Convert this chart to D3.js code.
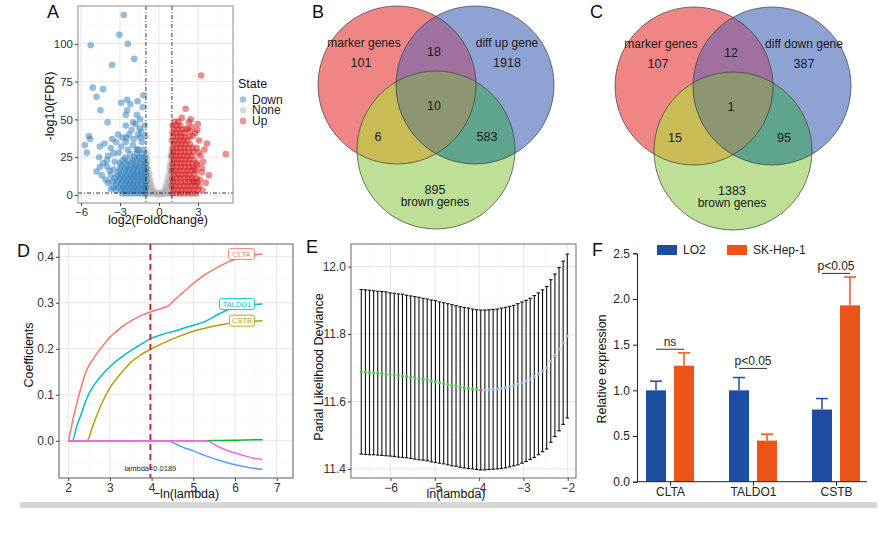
<!DOCTYPE html>
<html><head><meta charset="utf-8">
<script src="https://cdn.jsdelivr.net/npm/d3@7"></script>
<style>
body{margin:0;background:#fff;}
svg{display:block;font-family:"Liberation Sans",Arial,Helvetica,sans-serif;}
</style></head><body>
<svg id="fig" width="888" height="542"></svg>
<script>
// ================= DATA =================
// Panel A: volcano plot  [log2FC, -log10 FDR]
const volcanoStates = ["Down","None","Up"];
const volcanoXTicks = [-6,-3,0,3];
const volcanoYTicks = [0,25,50,75,100];
const volcanoDown = [
 [-2.7,119],[-3.05,106],[-5.25,99],[-2.4,100],[-1.9,90],[-3.6,86],[-5.1,71],[-4.3,70],[-4.8,65],[-1.2,66],
 [-2.45,63],[-2.2,60],[-1.65,62],[-2.9,61],[-4.5,56],[-2.45,56],[-2.55,53],[-1.7,53],[-3.95,48],[-1.45,50],
 [-2.0,48],[-1.8,47],[-2.55,46],[-1.5,44],[-1.35,42],[-3.15,40],[-2.8,38],[-2.5,38],[-2.3,40],[-1.45,38],
 [-5.4,39],[-5.3,37],[-5.7,33],[-5.55,28],[-4.55,32],[-4.2,34],[-3.6,37],[-3.7,31],[-3.3,35],[-2.55,35],
 [-3.9,26],[-3.5,27.5],[-4.8,15.5],[-4.55,18.5],[-4.3,21],[-4.0,19],[-3.8,16],[-4.0,23],[-1.1,46],[-1.3,35],
 [-2.0,33],[-1.7,30],[-2.9,32],[-3.1,28],[-4.4,13],[-4.1,10],[-3.9,8],[-3.7,4],[-4.6,25],[-3.4,22],
 [-1.6,40],[-2.1,43],[-1.25,58],[-1.05,39],[-1.95,37],
 [-1.05,1],[-1.3,1],[-1.6,1],[-1.9,1],[-2.2,1],[-2.5,1],[-2.8,1],
 [-1.1,3],[-1.4,3],[-1.7,3],[-2.0,3],[-2.3,3],[-2.6,3],[-2.9,3],[-3.3,3],
 [-1.0,5],[-1.25,5],[-1.55,5],[-1.85,5],[-2.15,5],[-2.45,5],[-2.75,5],[-3.1,5],[-3.5,5],
 [-1.1,7],[-1.4,7],[-1.7,7],[-2.0,7],[-2.3,7],[-2.6,7],[-2.9,7],[-3.3,7],
 [-1.0,9],[-1.3,9],[-1.6,9],[-1.9,9],[-2.2,9],[-2.5,9],[-2.8,9],[-3.2,9],[-3.6,9],
 [-1.15,11],[-1.45,11],[-1.75,11],[-2.05,11],[-2.35,11],[-2.7,11],[-3.0,11],[-3.4,11],
 [-1.0,13],[-1.3,13],[-1.6,13],[-1.9,13],[-2.2,13],[-2.5,13],[-2.85,13],[-3.2,13],[-3.7,13],
 [-1.1,15],[-1.4,15],[-1.7,15],[-2.0,15],[-2.35,15],[-2.7,15],[-3.1,15],
 [-1.0,17],[-1.3,17],[-1.65,17],[-1.95,17],[-2.3,17],[-2.6,17],[-3.0,17],[-3.5,17],
 [-1.15,19],[-1.5,19],[-1.8,19],[-2.15,19],[-2.5,19],[-2.9,19],
 [-1.05,21],[-1.4,21],[-1.75,21],[-2.1,21],[-2.55,21],[-3.0,21],
 [-1.2,23],[-1.6,23],[-2.0,23],[-2.4,23],[-2.8,23],
 [-1.1,25],[-1.5,25],[-1.9,25],[-2.6,25],[-1.3,27],[-1.7,27],[-2.2,27],[-1.2,30],[-1.6,30],[-2.4,30]
];
const volcanoNone = [
 [-0.98,1],[-0.98,5],[-0.98,9],[-0.98,13],[-0.98,17],[-0.98,21],[-0.98,25],[-0.97,28],
 [-0.9,3],[-0.9,7],[-0.9,11],[-0.9,15],[-0.9,19],[-0.9,23],[-0.82,1],[-0.82,5],[-0.82,9],[-0.82,13],[-0.82,17],
 [-0.74,3],[-0.74,7],[-0.74,11],[-0.74,14],[-0.66,1],[-0.66,5],[-0.66,9],[-0.58,3],[-0.58,6.5],[-0.5,1],[-0.5,4.5],
 [-0.42,2.5],[-0.34,1],[-0.26,2],[-0.18,0.5],[-0.1,1.2],[0,0.5],
 [0.1,1],[0.18,0.5],[0.26,2],[0.34,1],[0.42,3],[0.5,1],[0.5,5],[0.58,3],[0.58,7.5],[0.66,1],[0.66,5.5],[0.66,10],
 [0.74,3],[0.74,8],[0.74,13],[0.82,1],[0.82,6],[0.82,11],[0.82,16],[0.82,19],[0.9,3],[0.9,8],[0.9,13],[0.9,18],
 [0.9,22],[0.9,26],[0.98,1],[0.98,5],[0.98,10],[0.98,15],[0.98,20],[0.98,25],[0.97,29]
];
const volcanoUp = [
 [3.25,79],[2.05,57],[3.0,47],[2.55,45],[2.8,41],[3.1,36],[3.7,34],[5.15,27],[2.9,31],[3.2,26],
 [2.95,20],[3.3,15],[3.85,13],[2.6,39],[3.05,28],[3.4,22],[2.75,17],[3.15,10],[3.5,30],[2.95,43],
 [3.1,6],[3.35,3],[2.45,50],[1.75,51],[2.3,48],[3.3,18],[2.7,9],[3.6,8],[2.4,42],[2.2,44],
 [1.05,1],[1.35,1],[1.65,1],[1.95,1],[2.25,1],[2.55,1],[2.85,1],
 [1.15,3.5],[1.45,3.5],[1.75,3.5],[2.05,3.5],[2.35,3.5],[2.65,3.5],[3.0,3.5],
 [1.0,6],[1.3,6],[1.6,6],[1.9,6],[2.2,6],[2.5,6],[2.8,6],
 [1.1,8.5],[1.4,8.5],[1.7,8.5],[2.0,8.5],[2.3,8.5],[2.6,8.5],[2.95,8.5],
 [1.05,11],[1.35,11],[1.65,11],[1.95,11],[2.25,11],[2.55,11],[2.9,11],
 [1.15,13.5],[1.45,13.5],[1.75,13.5],[2.05,13.5],[2.35,13.5],[2.7,13.5],
 [1.0,16],[1.3,16],[1.6,16],[1.9,16],[2.2,16],[2.5,16],[2.85,16],
 [1.1,18.5],[1.4,18.5],[1.7,18.5],[2.0,18.5],[2.3,18.5],[2.6,18.5],
 [1.05,21],[1.35,21],[1.65,21],[1.95,21],[2.25,21],[2.55,21],[2.9,21],
 [1.15,23.5],[1.45,23.5],[1.75,23.5],[2.05,23.5],[2.35,23.5],[2.7,23.5],
 [1.0,26],[1.3,26],[1.6,26],[1.9,26],[2.2,26],[2.5,26],
 [1.1,28.5],[1.4,28.5],[1.7,28.5],[2.0,28.5],[2.3,28.5],[2.65,28.5],
 [1.05,31],[1.35,31],[1.65,31],[1.95,31],[2.25,31],[2.6,31],
 [1.15,33.5],[1.45,33.5],[1.75,33.5],[2.05,33.5],[2.4,33.5],
 [1.0,36],[1.3,36],[1.6,36],[1.9,36],[2.2,36],
 [1.1,38.5],[1.4,38.5],[1.7,38.5],[2.0,38.5],[2.35,38.5],
 [1.05,41],[1.35,41],[1.65,41],[1.95,41],[1.15,43.5],[1.45,43.5],[1.75,43.5],[2.1,43.5],
 [1.05,46],[1.35,46],[1.65,46],[1.2,48.5],[1.5,48.5]
];

// Panels B, C: Venn counts  [A only, B only, C only, AB, AC, BC, ABC]
const vennBSets = ["marker genes","diff up gene","brown genes"];
const vennBCounts = [101,1918,895,18,6,583,10];
const vennCSets = ["marker genes","diff down gene","brown genes"];
const vennCCounts = [107,387,1383,12,15,95,1];

// Panel D: LASSO coefficient paths
const lassoX = [2.01,2.1,2.2,2.3,2.45,2.6,2.8,3.0,3.25,3.5,3.75,4.0,4.25,4.4,4.55,4.75,5.0,5.3,5.6,5.9,6.2,6.45,6.66];
const lassoGenes = ["CLTA","CSTB","gene3","TALDO1","gene5","gene6"];
const coefCLTA   = [0,0.04,0.078,0.113,0.155,0.178,0.203,0.225,0.245,0.26,0.272,0.281,0.288,0.293,0.306,0.322,0.342,0.362,0.378,0.391,0.399,0.404,0.406];
const coefCSTB   = [0,0,0,0,0,0.035,0.08,0.115,0.145,0.17,0.187,0.2,0.211,0.217,0.223,0.23,0.238,0.245,0.251,0.256,0.259,0.26,0.261];
const coefGene3  = [0,0,0,0,0,0,0,0,0,0,0,0,0,0,0,0,0,0,0.0005,0.001,0.0015,0.002,0.0022];
const coefTALDO1 = [0,0,0.03,0.055,0.093,0.118,0.142,0.161,0.18,0.196,0.21,0.223,0.231,0.235,0.238,0.244,0.251,0.26,0.275,0.287,0.293,0.296,0.297];
const coefGene5  = [0,0,0,0,0,0,0,0,0,0,0,0,0,0,-0.006,-0.014,-0.022,-0.033,-0.042,-0.05,-0.056,-0.06,-0.062];
const coefGene6  = [0,0,0,0,0,0,0,0,0,0,0,0,0,0,0,0,0,0,-0.013,-0.024,-0.032,-0.038,-0.041];
const lambdaMinLabel = "lambda=0.0189";
const lambdaMinNegLog = 3.97;

// Panel E: cross-validation
const lnLambda = [-6.66,-6.567,-6.474,-6.381,-6.288,-6.195,-6.102,-6.009,-5.916,-5.823,-5.73,-5.637,-5.544,-5.451,-5.358,-5.265,-5.172,-5.079,-4.986,-4.893,-4.8,-4.707,-4.614,-4.521,-4.428,-4.335,-4.242,-4.149,-4.056,-3.963,-3.87,-3.777,-3.684,-3.591,-3.498,-3.405,-3.312,-3.219,-3.126,-3.033,-2.94,-2.847,-2.754,-2.661,-2.568,-2.475,-2.382,-2.289,-2.196,-2.103,-2.01];
const cvMean = [11.688,11.687,11.686,11.685,11.684,11.683,11.682,11.680,11.679,11.677,11.676,11.674,11.672,11.670,11.668,11.666,11.664,11.661,11.659,11.656,11.654,11.651,11.648,11.646,11.643,11.641,11.639,11.637,11.635,11.634,11.634,11.635,11.636,11.637,11.639,11.641,11.644,11.647,11.651,11.656,11.661,11.667,11.674,11.682,11.691,11.70,11.72,11.737,11.755,11.774,11.794];
const cvSE = [0.244,0.244,0.244,0.243,0.243,0.243,0.243,0.242,0.242,0.242,0.242,0.241,0.241,0.241,0.241,0.240,0.240,0.240,0.240,0.239,0.239,0.239,0.239,0.238,0.238,0.238,0.238,0.237,0.237,0.237,0.237,0.237,0.237,0.237,0.238,0.238,0.238,0.238,0.239,0.239,0.239,0.239,0.240,0.240,0.240,0.241,0.241,0.241,0.242,0.242,0.243];

// Panel F: qPCR
const qpcrGenes = ["CLTA","TALDO1","CSTB"];
const qpcrGroups = ["LO2","SK-Hep-1"];
const lo2Mean = [1.0,1.0,0.79];
const lo2Err  = [0.10,0.14,0.12];
const skMean  = [1.27,0.45,1.93];
const skErr   = [0.14,0.07,0.31];
const sigLabels = ["ns","p<0.05","p<0.05"];
const sigLevels = [1.45,1.24,2.28];

// ================= DRAWING =================
const FONT = '"Liberation Sans", Arial, Helvetica, sans-serif';
const svg = d3.select("#fig");

svg.append("rect").attr("x",20).attr("y",502).attr("width",857).attr("height",6).attr("fill","#d6d6d6");

function panelLetter(t,x,y){
  svg.append("text").attr("x",x).attr("y",y).attr("font-size",18).attr("fill","#111").text(t);
}
function styleAx(sel,size){
  sel.attr("font-size",size).attr("font-family",FONT);
  sel.selectAll("text").attr("fill","#333");
  sel.selectAll("line").attr("stroke","#444");
  sel.select(".domain").remove();
}
function panelBW(c){
  const g = svg.append("g");
  const [x0,y0,x1,y1] = c.box;
  g.append("rect").attr("x",x0).attr("y",y0).attr("width",x1-x0).attr("height",y1-y0).attr("fill","#fff");
  const grid = g.append("g");
  c.xMinor.forEach(v=>grid.append("line").attr("x1",c.x(v)).attr("x2",c.x(v)).attr("y1",y0).attr("y2",y1).attr("stroke","#f2f2f2").attr("stroke-width",0.6));
  c.yMinor.forEach(v=>grid.append("line").attr("y1",c.y(v)).attr("y2",c.y(v)).attr("x1",x0).attr("x2",x1).attr("stroke","#f2f2f2").attr("stroke-width",0.6));
  c.xMajor.forEach(v=>grid.append("line").attr("x1",c.x(v)).attr("x2",c.x(v)).attr("y1",y0).attr("y2",y1).attr("stroke","#e6e6e6").attr("stroke-width",1));
  c.yMajor.forEach(v=>grid.append("line").attr("y1",c.y(v)).attr("y2",c.y(v)).attr("x1",x0).attr("x2",x1).attr("stroke","#e6e6e6").attr("stroke-width",1));
  const data = g.append("g");
  return {g,data,finish(){
    g.append("rect").attr("x",x0).attr("y",y0).attr("width",x1-x0).attr("height",y1-y0).attr("fill","none").attr("stroke",c.border).attr("stroke-width",1);
    g.append("g").attr("transform",`translate(0,${y1})`)
      .call(d3.axisBottom(c.x).tickValues(c.xMajor).tickSize(3).tickPadding(2).tickFormat(c.xFmt))
      .call(s=>styleAx(s,c.fs));
    g.append("g").attr("transform",`translate(${x0},0)`)
      .call(d3.axisLeft(c.y).tickValues(c.yMajor).tickSize(3).tickPadding(2).tickFormat(c.yFmt))
      .call(s=>styleAx(s,c.fs));
  }};
}
function title(t,x,y,rot,size){
  const e = svg.append("text").attr("font-size",size||12.5).attr("fill","#111").attr("text-anchor","middle").attr("dy","0.35em");
  if(rot) e.attr("transform",`translate(${x},${y}) rotate(-90)`); else e.attr("x",x).attr("y",y);
  e.text(t); return e;
}

// ---------- Panel A ----------
{
  const x = d3.scaleLinear().domain([-6.23,5.7]).range([78,233]);
  const y = d3.scaleLinear().domain([-5.3,125]).range([203,6]);
  const P = panelBW({box:[78,6,233,203],x,y,xMajor:volcanoXTicks,xMinor:[-4.5,-1.5,1.5,4.5],
    yMajor:volcanoYTicks,yMinor:[12.5,37.5,62.5,87.5,112.5],border:"#8c8c8c",fs:11.5,xFmt:d3.format("d"),yFmt:d3.format("d")});
  const cols = {Down:"#2b7bba",None:"#b0b0b0",Up:"#d7191c"};
  [["None",volcanoNone],["Down",volcanoDown],["Up",volcanoUp]].forEach(([k,arr])=>{
    P.data.append("g").selectAll("circle").data(arr).join("circle")
      .attr("cx",d=>x(d[0])).attr("cy",d=>y(d[1])).attr("r",3.3)
      .attr("fill",cols[k]).attr("fill-opacity",0.5);
  });
  const dash = "4,2,1,2";
  [-1,1].forEach(v=>P.data.append("line").attr("x1",x(v)).attr("x2",x(v)).attr("y1",6).attr("y2",203)
     .attr("stroke","#222").attr("stroke-width",0.9).attr("stroke-dasharray",dash));
  P.data.append("line").attr("x1",78).attr("x2",233).attr("y1",y(-Math.log10(0.05))).attr("y2",y(-Math.log10(0.05)))
     .attr("stroke","#222").attr("stroke-width",0.9).attr("stroke-dasharray",dash);
  P.finish();
  title("log2(FoldChange)",158,220);
  title("-log10(FDR)",50,106,true);
  // legend
  svg.append("text").attr("x",238).attr("y",88).attr("font-size",12.5).attr("fill","#111").text("State");
  volcanoStates.forEach((s,i)=>{
    svg.append("circle").attr("cx",243).attr("cy",99.5+i*10.7).attr("r",3.3).attr("fill",cols[s]).attr("fill-opacity",0.45);
    svg.append("text").attr("x",252).attr("y",99.5+i*10.7).attr("dy","0.35em").attr("font-size",12).attr("fill","#222").text(s);
  });
  panelLetter("A",47,18);
}

// ---------- Venn B & C ----------
function venn(id,ox,oy,sets,counts){
  const r = 79;
  const cs = [[ox,oy],[ox+78,oy],[ox+39,oy+65]];
  const defs = svg.append("defs");
  cs.forEach((c,i)=>defs.append("clipPath").attr("id",id+i).append("circle").attr("cx",c[0]).attr("cy",c[1]).attr("r",r));
  const g = svg.append("g");
  const base = ["#f08585","#8ea2d3","#bde096"];
  cs.forEach((c,i)=>g.append("circle").attr("cx",c[0]).attr("cy",c[1]).attr("r",r).attr("fill",base[i]));
  const circ = (gg,i,fill,clip)=>gg.append("circle").attr("cx",cs[i][0]).attr("cy",cs[i][1]).attr("r",r).attr("fill",fill).attr("clip-path",`url(#${id}${clip})`);
  circ(g,1,"#a0709f",0);
  circ(g,2,"#c9bb56",0);
  circ(g,2,"#5fa58e",1);
  const gc = g.append("g").attr("clip-path",`url(#${id}0)`);
  circ(gc,2,"#8c9670",1);
  cs.forEach(c=>g.append("circle").attr("cx",c[0]).attr("cy",c[1]).attr("r",r).attr("fill","none").attr("stroke","#3a3a3a").attr("stroke-width",0.7));
  const lab = (t,dx,dy,fs)=>g.append("text").attr("x",ox+dx).attr("y",oy+dy).attr("dy","0.35em").attr("text-anchor","middle").attr("font-size",fs).attr("fill","#1a1a1a").text(t);
  lab(sets[0],-33,-42,12); lab(sets[1],110,-42,12); lab(sets[2],38,117,12);
  const pos = [[-36,-22],[110,-22],[38,105],[37,-33],[-19,52],[90,52],[37,21]];
  counts.forEach((v,i)=>lab(String(v),pos[i][0],pos[i][1],12.5));
}
venn("vb",397,85,vennBSets,vennBCounts);
venn("vc",694,86,vennCSets,vennCCounts);
panelLetter("B",312,18);
panelLetter("C",590,18);

// ---------- Panel D ----------
{
  const x = d3.scaleLinear().domain([1.78,7.39]).range([59,293]);
  const y = d3.scaleLinear().domain([-0.081,0.4277]).range([478,244]);
  const P = panelBW({box:[59,244,293,478],x,y,xMajor:[2,3,4,5,6,7],xMinor:[2.5,3.5,4.5,5.5,6.5],
    yMajor:[0,0.1,0.2,0.3,0.4],yMinor:[-0.05,0.05,0.15,0.25,0.35],border:"#5a5a5a",fs:12,xFmt:d3.format("d"),yFmt:d3.format(".1f")});
  const series = [coefCLTA,coefCSTB,coefGene3,coefTALDO1,coefGene5,coefGene6];
  const colors = ["#F8766D","#B79F00","#00BA38","#00BFC4","#619CFF","#F564E3"];
  const line = d3.line().x((d,i)=>x(lassoX[i])).y(d=>y(d)).curve(d3.curveMonotoneX);
  series.forEach((s,k)=>P.data.append("path").attr("d",line(s)).attr("fill","none").attr("stroke",colors[k]).attr("stroke-width",1.5));
  P.data.append("line").attr("x1",x(lambdaMinNegLog)).attr("x2",x(lambdaMinNegLog)).attr("y1",244).attr("y2",478)
    .attr("stroke","#C0242C").attr("stroke-width",1.8).attr("stroke-dasharray","6,4");
  P.data.append("text").attr("x",x(lambdaMinNegLog)).attr("y",468).attr("dy","0.35em").attr("text-anchor","middle")
    .attr("font-size",7.5).attr("fill","#222").text(lambdaMinLabel);
  // gene labels
  const last = lassoX.length-1;
  [[coefCLTA,"CLTA","#F8766D",26],[coefTALDO1,"TALDO1","#00BFC4",35],[coefCSTB,"CSTB","#B79F00",25]].forEach(([s,n,c,w])=>{
    const cx = x(lassoX[last])-8-w/2, cy = y(s[last]);
    P.data.append("rect").attr("x",cx-w/2).attr("y",cy-5.5).attr("width",w).attr("height",11).attr("rx",2)
      .attr("fill","#fff").attr("stroke",c).attr("stroke-width",0.9);
    P.data.append("text").attr("x",cx).attr("y",cy).attr("dy","0.35em").attr("text-anchor","middle")
      .attr("font-size",7.5).attr("fill",c).text(n);
  });
  P.finish();
  title("Coefficients",29,355,true);
  title("\u2212ln(lambda)",186,494);
  panelLetter("D",17,257);
}

// ---------- Panel E ----------
{
  const x = d3.scaleLinear().domain([-6.892,-1.813]).range([351,576]);
  const y = d3.scaleLinear().domain([11.373,12.067]).range([478,244]);
  const P = panelBW({box:[351,244,576,478],x,y,xMajor:[-6,-5,-4,-3,-2],xMinor:[-6.5,-5.5,-4.5,-3.5,-2.5],
    yMajor:[11.4,11.6,11.8,12.0],yMinor:[11.5,11.7,11.9],border:"#6a6a6a",fs:12,xFmt:d3.format("d"),yFmt:d3.format(".1f")});
  const imin = d3.minIndex(cvMean);
  const d = lnLambda.map((v,i)=>({x:v,m:cvMean[i],s:cvSE[i],i}));
  const eb = P.data.append("g").attr("stroke","#111").attr("stroke-width",1.1);
  d.forEach(p=>{
    eb.append("line").attr("x1",x(p.x)).attr("x2",x(p.x)).attr("y1",y(p.m-p.s)).attr("y2",y(p.m+p.s));
    eb.append("line").attr("x1",x(p.x)-1.8).attr("x2",x(p.x)+1.8).attr("y1",y(p.m-p.s)).attr("y2",y(p.m-p.s));
    eb.append("line").attr("x1",x(p.x)-1.8).attr("x2",x(p.x)+1.8).attr("y1",y(p.m+p.s)).attr("y2",y(p.m+p.s));
  });
  P.data.append("g").selectAll("circle").data(d).join("circle")
    .attr("cx",p=>x(p.x)).attr("cy",p=>y(p.m)).attr("r",1.6)
    .attr("fill",p=>p.i<imin?"#4fbf4f":(p.i===imin?"#e8474d":"#8db2e6"));
  P.finish();
  title("Parial Likelihood Deviance",319,367,true);
  title("ln(lambda)",456,494);
  panelLetter("E",306,253);
}

// ---------- Panel F ----------
{
  const y = d3.scaleLinear().domain([0,2.5]).range([481.7,253.3]);
  const x = d3.scalePoint().domain(qpcrGenes).range([670,836]);
  const colL = "#1e4ca0", colS = "#eb5519";
  const bw = 20;
  const g = svg.append("g");
  const groups = [[lo2Mean,lo2Err,colL,-24],[skMean,skErr,colS,4]];
  groups.forEach(([m,e,c,off])=>{
    qpcrGenes.forEach((gname,i)=>{
      const bx = x(gname)+off, cx = bx+bw/2;
      g.append("line").attr("x1",cx).attr("x2",cx).attr("y1",y(m[i])).attr("y2",y(m[i]+e[i])).attr("stroke",c).attr("stroke-width",1.5);
      g.append("line").attr("x1",cx-6).attr("x2",cx+6).attr("y1",y(m[i]+e[i])).attr("y2",y(m[i]+e[i])).attr("stroke",c).attr("stroke-width",1.5);
      g.append("rect").attr("x",bx).attr("y",y(m[i])).attr("width",bw).attr("height",y(0)-y(m[i])).attr("fill",c);
    });
  });
  // significance
  qpcrGenes.forEach((gname,i)=>{
    const x1 = x(gname)-24+bw/2, x2 = x(gname)+4+bw/2, yy = y(sigLevels[i]);
    g.append("line").attr("x1",x1).attr("x2",x2).attr("y1",yy).attr("y2",yy).attr("stroke","#333").attr("stroke-width",1);
    g.append("text").attr("x",(x1+x2)/2).attr("y",yy-3).attr("text-anchor","middle").attr("font-size",12).attr("fill","#222").text(sigLabels[i]);
  });
  // axes
  g.append("g").attr("transform","translate(637,0)")
    .call(d3.axisLeft(y).tickValues([0,0.5,1,1.5,2,2.5]).tickSize(4).tickPadding(3).tickFormat(d3.format(".1f")))
    .call(s=>{s.attr("font-size",12).attr("font-family",FONT);s.selectAll("text").attr("fill","#222");s.selectAll("line").attr("stroke","#222");s.select(".domain").attr("stroke","#222");});
  g.append("line").attr("x1",637).attr("x2",867).attr("y1",y(0)).attr("y2",y(0)).attr("stroke","#222");
  g.append("g").attr("transform",`translate(0,${y(0)})`)
    .call(d3.axisBottom(x).tickSize(4).tickPadding(2))
    .call(s=>{s.attr("font-size",12).attr("font-family",FONT);s.selectAll("text").attr("fill","#222");s.selectAll("line").attr("stroke","#222");s.select(".domain").remove();});
  // legend
  [[colL,657,683],[colS,727,753]].forEach(([c,rx,tx],i)=>{
    g.append("rect").attr("x",rx).attr("y",245).attr("width",20).attr("height",10).attr("fill",c);
    g.append("text").attr("x",tx).attr("y",250).attr("dy","0.35em").attr("font-size",12).attr("fill","#222").text(qpcrGroups[i]);
  });
  title("Relative expression",602,369,true);
  panelLetter("F",592,256);
}
</script>
</body></html>
